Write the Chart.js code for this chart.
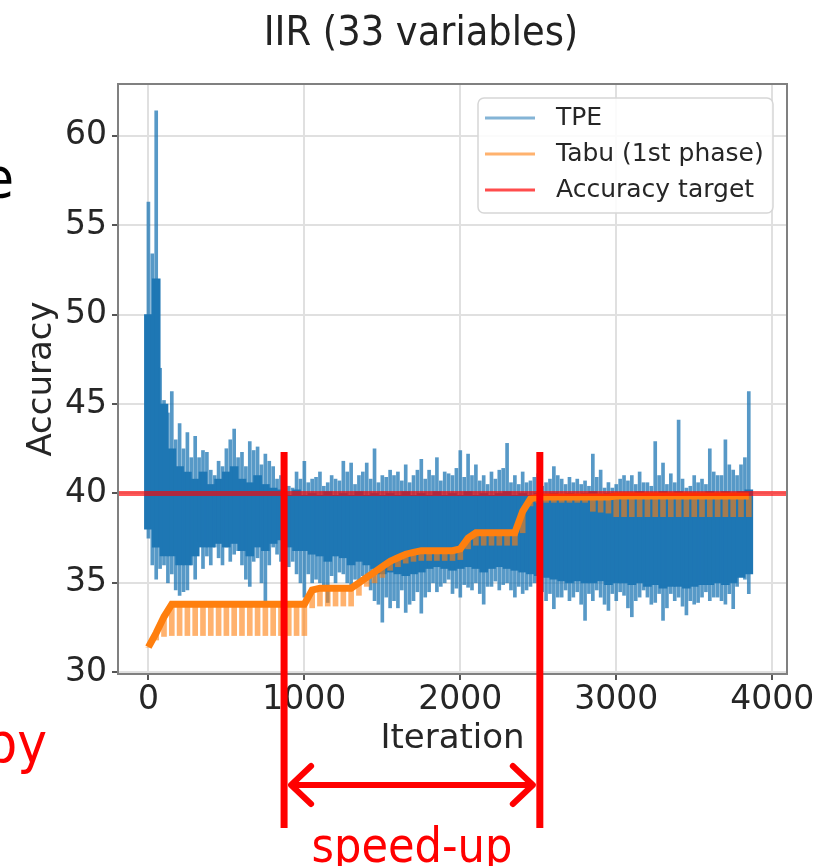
<!DOCTYPE html>
<html>
<head>
<meta charset="utf-8">
<script src="https://cdn.jsdelivr.net/npm/chart.js@4.4.1/dist/chart.umd.min.js"></script>
<style>
  html, body { margin: 0; padding: 0; background: #fff; }
</style>
</head>
<body>
<canvas id="iir-chart" width="824" height="866"></canvas>
<script>
// iterations sampled every 50 (TPE band + spike extremes, Tabu band)
var iters = [0,50,100,150,200,250,300,350,400,450,500,550,600,650,700,750,800,850,900,950,
  1000,1050,1100,1150,1200,1250,1300,1350,1400,1450,1500,1550,1600,1650,1700,1750,1800,1850,1900,1950,
  2000,2050,2100,2150,2200,2250,2300,2350,2400,2450,2500,2550,2600,2650,2700,2750,2800,2850,2900,2950,
  3000,3050,3100,3150,3200,3250,3300,3350,3400,3450,3500,3550,3600,3650,3700,3750,3800,3850];

var tpeHigh = [56.3,61.4,45.2,45.7,43.9,43.4,43.2,42.4,41.3,41.8,
  42.5,43.6,42.3,42.9,42.6,42.2,41.5,41.0,40.4,41.2,
  41.8,40.8,41.2,40.6,40.8,41.8,41.7,41.0,41.7,42.5,
  41.0,41.3,41.2,41.6,41.0,41.9,41.3,42.0,41.2,41.0,
  42.4,42.2,41.6,41.0,41.2,41.3,42.8,41.0,41.2,40.7,
  41.1,40.6,41.5,40.8,40.9,40.8,40.7,42.2,41.3,40.6,
  40.5,41.0,41.0,41.2,40.6,42.9,41.7,41.1,44.1,40.3,
  41.0,40.8,42.5,41.0,43.0,41.3,41.6,45.7];

var tpeLow = [37.5,35.2,36.0,35.5,34.3,34.6,35.2,35.8,36.0,36.4,
  37.0,36.6,36.0,34.8,36.4,33.9,37.0,36.2,35.9,35.5,
  34.2,35.0,35.0,33.9,35.0,35.5,34.75,34.9,35.2,34.0,
  32.8,33.6,33.6,33.35,34.0,33.3,34.5,34.5,35.0,34.4,
  34.2,34.75,35.0,33.8,34.8,34.6,35.0,34.2,34.4,34.8,
  35.0,34.0,33.55,34.2,34.0,34.5,32.9,34.0,34.2,33.45,
  34.0,34.3,33.1,34.2,34.2,33.9,32.9,34.4,34.2,33.2,
  33.8,34.2,34.0,34.2,33.8,33.55,35.5,34.4];

// solid (overplotted) part of the TPE trace
var coreHigh = [50,52,45,42.5,41.5,41.2,40.8,41.2,40.5,40.8,
  41.2,41.5,40.8,40.6,41.0,40.5,40.3,40.2,39.9,40.2,
  39.9,40.0,39.9,40.1,39.9,40.0,39.9,40.1,39.9,40.0,
  39.9,40.0,39.9,40.1,39.9,40.0,39.9,40.1,39.9,40.0,
  39.9,40.1,39.9,40.0,39.9,40.0,40.1,39.9,40.0,39.9,
  40.0,39.9,40.0,39.9,40.0,39.9,40.0,40.1,39.9,40.0,
  39.9,40.0,39.9,40.1,39.9,40.0,40.1,39.9,40.1,39.9,
  40.0,39.9,40.1,40.0,40.1,39.9,40.1,40.2];
var coreLow = [38.0,37.0,36.5,36.5,36.0,36.0,36.5,37.0,37.0,37.2,
  37.0,37.2,36.8,36.5,37.0,36.8,37.2,37.4,37.0,36.8,
  36.8,36.6,36.5,36.2,36.5,36.4,36.0,36.2,36.0,35.8,
  35.5,35.6,35.5,35.4,35.5,35.6,35.8,35.9,35.8,35.7,
  35.8,35.9,35.8,35.6,35.8,35.9,35.8,35.7,35.6,35.5,
  35.4,35.3,35.2,35.1,35.0,35.1,35.0,35.0,35.1,34.9,
  35.0,35.0,34.9,35.0,34.8,34.9,34.7,34.8,34.8,34.7,
  34.8,34.9,34.9,35.0,34.9,35.0,35.3,35.5];

// second set of TPE spikes, halfway between the samples above
var iters2 = [25,75,125,175,225,275,325,375,425,475,525,575,625,675,725,775,825,875,925,975,
  1025,1075,1125,1175,1225,1275,1325,1375,1425,1475,1525,1575,1625,1675,1725,1775,1825,1875,1925,1975,
  2025,2075,2125,2175,2225,2275,2325,2375,2425,2475,2525,2575,2625,2675,2725,2775,2825,2875,2925,2975,
  3025,3075,3125,3175,3225,3275,3325,3375,3425,3475,3525,3575,3625,3675,3725,3775,3825];
var tpeHigh2 = [53.4,47.0,44.5,43.0,42.5,42.0,42.0,42.3,41.0,41.5,
  43.0,42.0,41.5,42.4,41.6,41.8,40.8,40.6,40.3,40.8,
  40.6,40.9,40.4,41.0,40.7,41.2,40.5,41.2,40.8,40.6,
  40.9,41.0,40.7,40.6,41.3,40.8,41.0,40.7,41.1,41.4,
  40.9,41.0,40.7,40.5,40.8,41.4,40.6,40.5,40.6,40.9,
  40.4,40.8,41.0,40.5,40.6,40.5,40.4,40.9,40.3,40.3,
  40.8,40.7,40.5,40.6,40.4,41.0,40.5,40.6,40.8,40.4,
  40.6,40.5,41.2,41.0,41.6,41.0,42.0];
var tpeLow2 = [36.0,35.8,35.0,34.6,34.5,36.0,37.3,36.5,37.0,36.0,
  36.2,36.8,35.2,36.2,35.0,36.0,36.6,36.0,36.2,35.0,
  35.5,35.2,34.6,35.4,35.6,35.0,35.2,35.4,34.6,33.8,
  34.2,34.0,34.6,33.8,34.5,34.2,35.0,34.8,35.2,34.7,
  34.9,34.6,34.4,34.8,35.1,34.9,34.6,34.8,34.6,35.0,
  34.5,34.4,34.2,34.6,34.2,33.8,34.4,34.6,33.8,34.4,
  34.5,33.6,34.0,34.6,33.8,34.4,33.6,34.0,33.7,34.0,
  33.9,34.5,34.2,34.0,34.4,34.8,35.2];

// Tabu: current best (top) and the dips below it
var tabuTop = [31.4,32.2,33.1,33.8,33.8,33.8,33.8,33.8,33.8,33.8,
  33.8,33.8,33.8,33.8,33.8,33.8,33.8,33.8,33.8,33.8,
  33.8,34.6,34.7,34.7,34.7,34.7,34.7,35.0,35.3,35.6,
  35.9,36.2,36.4,36.6,36.7,36.8,36.8,36.8,36.8,36.8,
  36.9,37.5,37.8,37.8,37.8,37.8,37.8,37.8,39.0,39.7,
  39.8,39.8,39.8,39.8,39.8,39.8,39.8,39.8,39.8,39.8,
  39.85,39.85,39.85,39.85,39.85,39.85,39.85,39.85,39.85,39.85,
  39.85,39.85,39.85,39.85,39.85,39.85,39.85,39.85];
var tabuLow = [31.4,31.8,32.0,32.05,32.05,32.05,32.05,32.05,32.05,32.05,
  32.05,32.05,32.05,32.05,32.05,32.05,32.05,32.05,32.05,32.05,
  32.05,33.6,33.7,33.7,33.7,33.7,33.7,34.3,34.8,35.0,
  35.3,35.7,35.9,36.1,36.2,36.25,36.25,36.25,36.25,36.25,
  36.3,36.9,37.1,37.1,37.1,37.1,37.1,37.1,37.8,39.3,
  39.5,39.5,39.5,39.5,39.5,39.5,39.5,39.0,38.95,38.9,
  38.7,38.7,38.7,38.7,38.7,38.7,38.7,38.7,38.7,38.7,
  38.7,38.7,38.7,38.7,38.7,38.7,38.7,38.7];

var target = 40;
var xTicks = [0,1000,2000,3000,4000];
var yTicks = [30,35,40,45,50,55,60];
var xRange = [-195, 4095];
var yRange = [29.9, 62.9];
var speedUp = [870, 2510];   // red markers on the slide

var sans = '"DejaVu Sans", sans-serif';
var narrow = '"DejaVu Sans Condensed", "DejaVu Sans", sans-serif';

function band(xs, lo, hi) {
  return xs.map(function(x, i) { return {x: x, y: [lo[i], hi[i]]}; });
}

var extras = {
  id: 'extras',
  afterDatasetsDraw: function(chart) {
    var ctx = chart.ctx, a = chart.chartArea;
    ctx.save();
    ctx.strokeStyle = '#808080';
    ctx.lineWidth = 2;
    ctx.strokeRect(a.left, a.top, a.right - a.left, a.bottom - a.top);

    // legend box, upper right
    var w = 295, h = 115, lx = a.right - 14 - w, ly = a.top + 14;
    ctx.fillStyle = 'rgba(255,255,255,0.85)';
    ctx.strokeStyle = '#d6d6d6';
    ctx.lineWidth = 1.5;
    ctx.beginPath();
    ctx.roundRect(lx, ly, w, h, 6);
    ctx.fill();
    ctx.stroke();
    var items = chart.data.datasets.filter(function(d) { return d.legendColor; });
    ctx.font = '25px ' + sans;
    ctx.textBaseline = 'middle';
    items.forEach(function(d, i) {
      var yy = ly + 20 + i * 36;
      ctx.strokeStyle = d.legendColor;
      ctx.lineWidth = 3;
      ctx.beginPath();
      ctx.moveTo(lx + 7, yy);
      ctx.lineTo(lx + 57, yy);
      ctx.stroke();
      ctx.fillStyle = '#262626';
      ctx.fillText(d.label, lx + 78, yy);
    });
    ctx.restore();
  },
  afterDraw: function(chart) {
    var ctx = chart.ctx, xs = chart.scales.x;
    ctx.save();
    ctx.fillStyle = '#222';
    ctx.font = '41px ' + narrow;
    ctx.textAlign = 'center';
    ctx.textBaseline = 'alphabetic';
    ctx.fillText('IIR (33 variables)', 421, 45);

    // pieces of slide text cut by the crop
    ctx.font = '56px ' + narrow;
    ctx.textAlign = 'right';
    ctx.fillStyle = '#000';
    ctx.fillText('e', 14, 197);
    ctx.fillStyle = '#ff0000';
    ctx.fillText('by', 47, 762);

    var x1 = xs.getPixelForValue(speedUp[0]), x2 = xs.getPixelForValue(speedUp[1]);
    ctx.strokeStyle = '#ff0000';
    ctx.lineWidth = 7;
    ctx.beginPath();
    ctx.moveTo(x1, 452); ctx.lineTo(x1, 828);
    ctx.moveTo(x2, 452); ctx.lineTo(x2, 828);
    ctx.stroke();

    var ay = 785, l = x1 + 7, r = x2 - 7;
    ctx.lineWidth = 6;
    ctx.lineCap = 'round';
    ctx.lineJoin = 'round';
    ctx.beginPath();
    ctx.moveTo(l, ay); ctx.lineTo(r, ay);
    ctx.moveTo(l + 20, ay - 19); ctx.lineTo(l, ay); ctx.lineTo(l + 20, ay + 19);
    ctx.moveTo(r - 20, ay - 19); ctx.lineTo(r, ay); ctx.lineTo(r - 20, ay + 19);
    ctx.stroke();

    ctx.font = '48px ' + narrow;
    ctx.textAlign = 'center';
    ctx.fillText('speed-up', (x1 + x2) / 2, 862);
    ctx.restore();
  }
};

var iirChart = document.getElementById('iir-chart');

var iirDemoChart = new Chart(iirChart, {
  type: 'bar',
  data: {
    datasets: [
      {
        label: 'TPE', legendColor: 'rgba(31,119,180,0.55)',
        data: band(iters, coreLow, coreHigh),
        backgroundColor: '#1f77b4', barThickness: 8, grouped: false, borderWidth: 0, order: 5
      }, {
        label: 'TPE spikes',
        data: band(iters, tpeLow, tpeHigh),
        backgroundColor: 'rgba(31,119,180,0.75)', barThickness: 3, grouped: false, borderWidth: 0, order: 4
      }, {
        label: 'TPE spikes 2',
        data: band(iters2, tpeLow2, tpeHigh2),
        backgroundColor: 'rgba(31,119,180,0.75)', barThickness: 3, grouped: false, borderWidth: 0, order: 3
      }, {
        label: 'Tabu dips',
        data: band(iters, tabuLow, tabuTop),
        backgroundColor: 'rgba(255,127,14,0.6)', barThickness: 5, grouped: false, borderWidth: 0, order: 2
      }, {
        type: 'line', label: 'Tabu (1st phase)', legendColor: 'rgba(255,127,14,0.6)',
        data: iters.map(function(x, i) { return {x: x, y: tabuTop[i]}; }),
        borderColor: '#ff7f0e', borderWidth: 7, pointRadius: 0, tension: 0, order: 1
      }, {
        type: 'line', label: 'Accuracy target', legendColor: 'rgba(255,0,0,0.7)',
        data: [{x: xRange[0], y: target}, {x: xRange[1], y: target}],
        borderColor: 'rgba(255,0,0,0.65)', borderWidth: 5, pointRadius: 0, order: 0
      }
    ]
  },
  options: {
    responsive: false, animation: false, events: [],
    layout: {padding: {left: 0, top: 84, right: 37, bottom: 102}},
    plugins: {legend: {display: false}, tooltip: {enabled: false}, title: {display: false}},
    scales: {
      x: {
        type: 'linear', min: xRange[0], max: xRange[1], offset: false,
        grid: {offset: false, color: '#e0e0e0', lineWidth: 2, tickLength: 6, tickColor: '#555'},
        border: {color: '#808080', width: 2},
        ticks: {font: {family: sans, size: 33}, color: '#262626', padding: 1, maxRotation: 0, autoSkip: false,
                callback: function(v) { return String(v); }},
        title: {display: true, text: 'Iteration', font: {family: sans, size: 34}, color: '#262626', padding: {top: 0, bottom: 4}},
        afterBuildTicks: function(s) { s.ticks = xTicks.map(function(v) { return {value: v}; }); },
        afterFit: function(s) { s.height = 90; s.paddingLeft = 0; s.paddingRight = 0; }
      },
      y: {
        min: yRange[0], max: yRange[1],
        grid: {color: '#e0e0e0', lineWidth: 2, tickLength: 6, tickColor: '#555'},
        border: {color: '#808080', width: 2},
        ticks: {font: {family: sans, size: 33}, color: '#262626', padding: 5},
        title: {display: true, text: 'Accuracy', font: {family: sans, size: 34}, color: '#262626', padding: {top: 22, bottom: 0}},
        afterBuildTicks: function(s) { s.ticks = yTicks.map(function(v) { return {value: v}; }); },
        afterFit: function(s) { s.width = 118; s.paddingTop = 0; s.paddingBottom = 0; }
      }
    }
  },
  plugins: [extras]
});
</script>
</body>
</html>
